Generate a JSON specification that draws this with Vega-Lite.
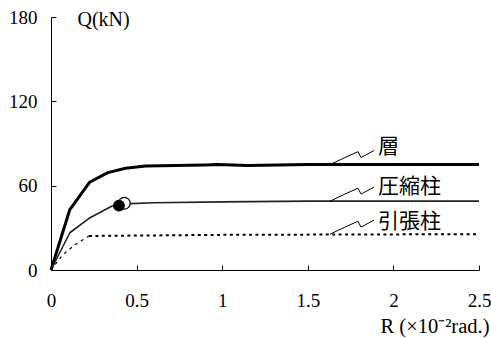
{
  "$schema": "https://vega.github.io/schema/vega-lite/v6.json",
  "autosize": {"type": "none"},
  "padding": {"left": 51, "top": 17, "right": 12, "bottom": 68},
  "width": 428,
  "height": 253,
  "background": "white",
  "config": {
    "view": {"stroke": null},
    "axis": {
      "grid": false,
      "domainColor": "black",
      "domainWidth": 1,
      "tickColor": "black",
      "tickWidth": 1,
      "tickSize": -5,
      "labelColor": "black",
      "labelFlush": false,
      "labelOverlap": false,
      "titleColor": "black",
      "titleFontWeight": "normal"
    }
  },
  "datasets": {
    "curves": [
      {"series": "層", "R": 0, "Q": 0},
      {"series": "層", "R": 0.11, "Q": 43},
      {"series": "層", "R": 0.225, "Q": 62.4},
      {"series": "層", "R": 0.332, "Q": 69.3},
      {"series": "層", "R": 0.435, "Q": 72.4},
      {"series": "層", "R": 0.552, "Q": 74},
      {"series": "層", "R": 0.9, "Q": 74.7},
      {"series": "層", "R": 0.97, "Q": 75},
      {"series": "層", "R": 1.15, "Q": 74.4},
      {"series": "層", "R": 1.5, "Q": 75},
      {"series": "層", "R": 2.5, "Q": 75},
      {"series": "圧縮柱", "R": 0, "Q": 0},
      {"series": "圧縮柱", "R": 0.11, "Q": 26.5},
      {"series": "圧縮柱", "R": 0.222, "Q": 36.8},
      {"series": "圧縮柱", "R": 0.357, "Q": 45.5},
      {"series": "圧縮柱", "R": 0.4, "Q": 46.3},
      {"series": "圧縮柱", "R": 0.465, "Q": 47.2},
      {"series": "圧縮柱", "R": 0.6, "Q": 47.8},
      {"series": "圧縮柱", "R": 1.0, "Q": 48.5},
      {"series": "圧縮柱", "R": 1.5, "Q": 49},
      {"series": "圧縮柱", "R": 2.5, "Q": 49},
      {"series": "引張柱", "R": 0, "Q": 0},
      {"series": "引張柱", "R": 0.07, "Q": 11},
      {"series": "引張柱", "R": 0.14, "Q": 18},
      {"series": "引張柱", "R": 0.222, "Q": 24.2},
      {"series": "引張柱", "R": 0.5, "Q": 24.5},
      {"series": "引張柱", "R": 1.0, "Q": 25},
      {"series": "引張柱", "R": 2.5, "Q": 25.5}
    ],
    "peaks": [
      {"kind": "open", "R": 0.428, "Q": 47.5},
      {"kind": "filled", "R": 0.397, "Q": 45.8}
    ],
    "leaders": [
      {"series": "層", "i": 0, "R": 1.63, "Q": 75},
      {"series": "層", "i": 1, "R": 1.717, "Q": 80},
      {"series": "層", "i": 2, "R": 1.793, "Q": 84.2},
      {"series": "層", "i": 3, "R": 1.811, "Q": 80},
      {"series": "層", "i": 4, "R": 1.887, "Q": 85},
      {"series": "圧縮柱", "i": 0, "R": 1.63, "Q": 49},
      {"series": "圧縮柱", "i": 1, "R": 1.717, "Q": 54},
      {"series": "圧縮柱", "i": 2, "R": 1.793, "Q": 58.2},
      {"series": "圧縮柱", "i": 3, "R": 1.811, "Q": 54},
      {"series": "圧縮柱", "i": 4, "R": 1.887, "Q": 59},
      {"series": "引張柱", "i": 0, "R": 1.63, "Q": 25.5},
      {"series": "引張柱", "i": 1, "R": 1.717, "Q": 30.5},
      {"series": "引張柱", "i": 2, "R": 1.793, "Q": 34.7},
      {"series": "引張柱", "i": 3, "R": 1.811, "Q": 30.5},
      {"series": "引張柱", "i": 4, "R": 1.887, "Q": 35.5}
    ],
    "labels": [
      {"series": "層", "R": 1.91, "Q": 87.7},
      {"series": "圧縮柱", "R": 1.91, "Q": 59.3},
      {"series": "引張柱", "R": 1.91, "Q": 33.8}
    ]
  },
  "encoding": {
    "x": {
      "field": "R",
      "type": "quantitative",
      "scale": {"domain": [0, 2.5], "nice": false},
      "axis": {
        "values": [0, 0.5, 1, 1.5, 2, 2.5],
        "format": "~g",
        "labelFont": "Liberation Serif",
        "labelFontSize": 19,
        "labelPadding": 26,
        "title": "R (×10⁻²rad.)",
        "titleFont": "Liberation Serif",
        "titleFontSize": 20.5,
        "titleAnchor": "end",
        "titleAlign": "right",
        "titleBaseline": "alphabetic",
        "titleX": 438,
        "titleY": 62
      }
    },
    "y": {
      "field": "Q",
      "type": "quantitative",
      "scale": {"domain": [0, 180], "nice": false},
      "axis": {
        "values": [0, 60, 120, 180],
        "labelFont": "Liberation Serif",
        "labelFontSize": 19,
        "labelPadding": 19,
        "title": "Q(kN)",
        "titleFont": "Liberation Serif",
        "titleFontSize": 20,
        "titleAngle": 0,
        "titleAlign": "left",
        "titleBaseline": "alphabetic",
        "titleX": 26,
        "titleY": 8
      }
    }
  },
  "layer": [
    {
      "data": {"name": "curves"},
      "transform": [{"filter": "datum.series === '層'"}],
      "mark": {"type": "line", "color": "black", "strokeWidth": 3, "strokeJoin": "round"}
    },
    {
      "data": {"name": "curves"},
      "transform": [{"filter": "datum.series === '圧縮柱'"}],
      "mark": {"type": "line", "color": "#222", "strokeWidth": 1.6, "strokeJoin": "round"}
    },
    {
      "data": {"name": "curves"},
      "transform": [{"filter": "datum.series === '引張柱' && datum.R <= 0.222"}],
      "mark": {"type": "line", "color": "black", "strokeWidth": 1.2, "strokeDash": [3, 4]}
    },
    {
      "data": {"name": "curves"},
      "transform": [{"filter": "datum.series === '引張柱' && datum.R >= 0.222"}],
      "mark": {"type": "line", "color": "black", "strokeWidth": 2, "strokeDash": [3, 3.4]}
    },
    {
      "data": {"name": "peaks"},
      "transform": [{"filter": "datum.kind === 'open'"}],
      "mark": {"type": "point", "shape": "circle", "filled": true, "fill": "white", "stroke": "black", "strokeWidth": 1.2, "size": 140, "opacity": 1}
    },
    {
      "data": {"name": "peaks"},
      "transform": [{"filter": "datum.kind === 'filled'"}],
      "mark": {"type": "point", "shape": "circle", "filled": true, "color": "black", "size": 140, "opacity": 1}
    },
    {
      "data": {"name": "leaders"},
      "mark": {"type": "line", "color": "black", "strokeWidth": 1},
      "encoding": {
        "detail": {"field": "series"},
        "order": {"field": "i", "type": "quantitative"}
      }
    },
    {
      "data": {"name": "labels"},
      "mark": {"type": "text", "align": "left", "baseline": "middle", "font": "Noto Sans CJK JP", "fontSize": 21, "color": "black"},
      "encoding": {"text": {"field": "series"}}
    }
  ]
}
